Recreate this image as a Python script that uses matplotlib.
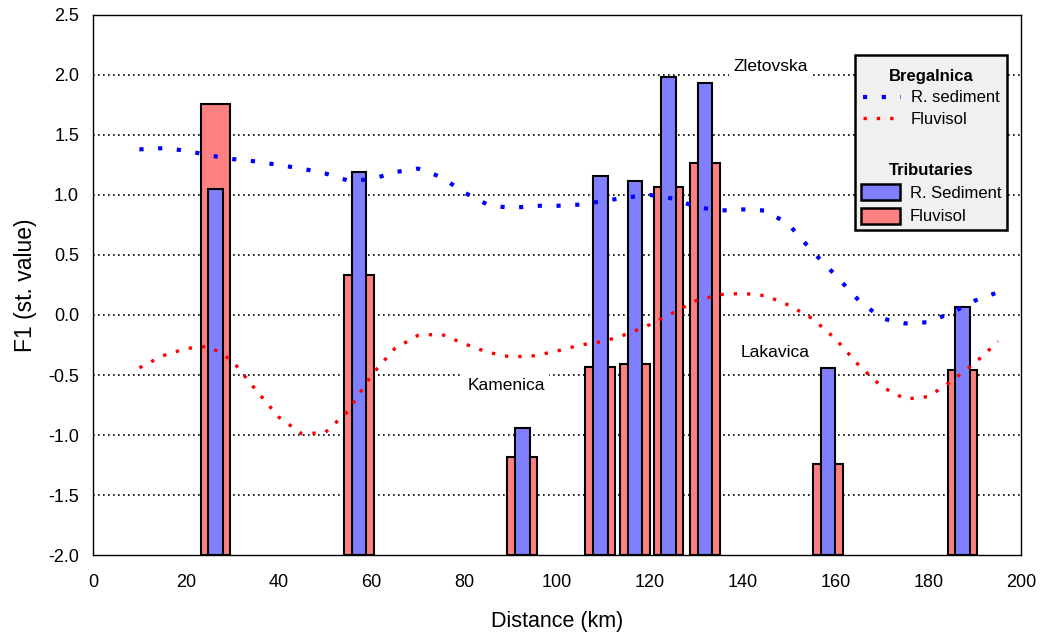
import matplotlib
matplotlib.use("Agg")
import matplotlib.pyplot as plt
from matplotlib.lines import Line2D
from matplotlib.patches import Patch, Rectangle

plt.rcParams["font.family"] = ["Liberation Sans", "DejaVu Sans"]

# Tributaries (bars)
trib_x = [26.4, 57.3, 92.5, 109.3, 116.8, 124.0, 131.9, 158.3, 187.3]
trib_sediment = [1.05, 1.19, -0.94, 1.16, 1.12, 1.98, 1.93, -0.44, 0.07]
trib_fluvisol = [1.76, 0.33, -1.18, -0.43, -0.41, 1.07, 1.27, -1.24, -0.46]

# Bregalnica (dotted lines)
breg_x = [10, 15, 20, 25, 30, 35, 40, 45, 50, 55, 60, 65, 70, 75, 80, 85, 90, 95,
          100, 105, 110, 115, 120, 125, 130, 135, 140, 145, 150, 155, 160, 165,
          170, 175, 180, 185, 190, 195]
breg_sediment = [1.38, 1.39, 1.37, 1.33, 1.30, 1.28, 1.25, 1.22, 1.18, 1.12, 1.13,
                 1.19, 1.22, 1.15, 1.02, 0.92, 0.89, 0.91, 0.91, 0.92, 0.95, 0.98,
                 1.00, 0.97, 0.90, 0.87, 0.88, 0.87, 0.75, 0.53, 0.33, 0.12, -0.03,
                 -0.07, -0.06, 0.02, 0.12, 0.19]
breg_fluvisol = [-0.44, -0.34, -0.28, -0.26, -0.38, -0.62, -0.85, -0.99, -0.98,
                 -0.80, -0.50, -0.28, -0.17, -0.16, -0.24, -0.31, -0.35, -0.34,
                 -0.30, -0.25, -0.22, -0.16, -0.08, 0.02, 0.12, 0.17, 0.18, 0.16,
                 0.08, -0.03, -0.20, -0.42, -0.60, -0.70, -0.68, -0.55, -0.40, -0.22]

labels = ["Zletovska", "Kamenica", "Lakavica"]
label_x = [146, 89, 147]
label_y = [2.07, -0.59, -0.31]

blue_fill = "#8080ff"
red_fill = "#ff8080"
blue_dots = dict(color="#0000ff", lw=3.0, linestyle=(0, (1, 3.5)), dash_capstyle="butt")
red_dots = dict(color="#ff0000", lw=2.4, linestyle=(0, (1, 3.0)), dash_capstyle="butt")
y_base = -2.0

fig = plt.figure(figsize=(10.41, 6.37), dpi=100)
ax = fig.add_axes([0.0893, 0.1287, 0.8918, 0.8478])

ax.bar(trib_x, [v - y_base for v in trib_fluvisol], bottom=y_base, width=6.4,
       color=red_fill, edgecolor="black", linewidth=1.5, zorder=2)
ax.bar(trib_x, [v - y_base for v in trib_sediment], bottom=y_base, width=3.1,
       color=blue_fill, edgecolor="black", linewidth=1.5, zorder=3)

ax.plot(breg_x, breg_sediment, zorder=4, **blue_dots)
ax.plot(breg_x, breg_fluvisol, zorder=4, **red_dots)

for t, x, y in zip(labels, label_x, label_y):
    ax.text(x, y, t, fontsize=12.5, ha="center", va="center", zorder=5,
            bbox=dict(facecolor="white", edgecolor="none", pad=3))

ax.set_xlim(0, 200)
ax.set_ylim(-2.0, 2.5)
ax.set_xticks(range(0, 201, 20))
ax.set_yticks([-2.0 + 0.5 * i for i in range(10)])
ax.set_yticklabels([f"{-2.0 + 0.5 * i:.1f}" for i in range(10)])
ax.tick_params(axis="x", length=0, labelsize=13, pad=14)
ax.tick_params(axis="y", length=0, labelsize=13, pad=10)
ax.set_xlabel("Distance (km)", fontsize=15.5, labelpad=14)
ax.set_ylabel("F1 (st. value)", fontsize=16.5, labelpad=8)

for y in [-1.5 + 0.5 * i for i in range(8)]:
    ax.axhline(y, color="black", lw=1.2, linestyle=(0, (1, 2)), zorder=1)
for s in ax.spines.values():
    s.set_linewidth(1.0)

# legend: grey box with two titled groups
ax.add_patch(Rectangle((0.821, 0.602), 0.164, 0.324, transform=ax.transAxes,
                       facecolor="#f0f0f0", edgecolor="black", lw=1.8, zorder=6))
leg_kw = dict(frameon=False, fontsize=12, handlelength=2.3, handletextpad=0.6,
              labelspacing=0.4, borderpad=0.2, title_fontproperties={"weight": "bold", "size": 12})
leg1 = ax.legend([Line2D([], [], **blue_dots), Line2D([], [], **red_dots)],
                 ["R. sediment", "Fluvisol"], title="Bregalnica", loc="upper center",
                 bbox_to_anchor=(0.903, 0.922), **leg_kw)
leg1.set_zorder(7)
ax.add_artist(leg1)
leg2 = ax.legend([Patch(facecolor=blue_fill, edgecolor="black", linewidth=1.8),
                  Patch(facecolor=red_fill, edgecolor="black", linewidth=1.8)],
                 ["R. Sediment", "Fluvisol"], title="Tributaries", loc="upper center",
                 bbox_to_anchor=(0.903, 0.748), handleheight=1.1, **leg_kw)
leg2.set_zorder(7)

fig.savefig("out.png", dpi=100)
